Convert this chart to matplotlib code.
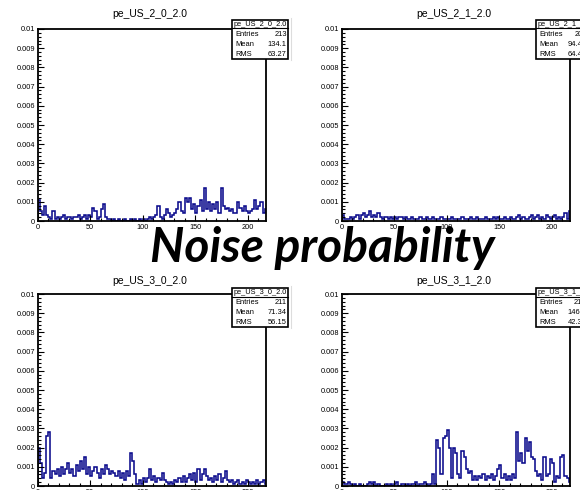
import numpy as np
import matplotlib
matplotlib.use("Agg")
import matplotlib.pyplot as plt
from matplotlib.patches import Rectangle
from matplotlib.lines import Line2D
from matplotlib.ticker import MultipleLocator

plt.rcParams['font.family'] = ['Liberation Sans', 'DejaVu Sans']

W, H = 580, 490
BIN_WIDTH = 2

# bin contents in units of 1e-4 (bins of width 2, starting at 0)
us_2_0 = [11, 5, 3, 8, 3, 2, 1, 5, 1, 2, 1, 2, 3, 1, 2, 2, 1, 2, 2, 3,
          1, 2, 3, 1, 3, 2, 7, 5, 1, 2, 6, 9, 2, 1, 1, 0, 1, 0, 1, 0,
          0, 1, 0, 0, 1, 0, 1, 0, 1, 0, 1, 0, 1, 2, 1, 2, 3, 8, 2, 1,
          3, 6, 4, 2, 3, 4, 6, 10, 5, 4, 12, 10, 12, 6, 9, 4, 8, 11, 5, 17,
          6, 10, 5, 9, 6, 10, 4, 17, 8, 6, 7, 5, 6, 4, 4, 10, 7, 5, 8, 5,
          4, 5, 6, 11, 6, 8, 10, 4, 6]
us_2_1 = [3, 1, 1, 1, 2, 1, 2, 3, 1, 3, 4, 2, 3, 5, 2, 3, 2, 4, 2, 1,
          2, 2, 1, 2, 1, 2, 1, 2, 2, 1, 2, 1, 1, 2, 1, 1, 1, 2, 1, 1,
          2, 1, 1, 2, 1, 1, 1, 2, 1, 1, 1, 1, 2, 1, 1, 1, 1, 2, 1, 1,
          1, 2, 1, 1, 2, 1, 1, 1, 2, 1, 1, 1, 2, 1, 2, 1, 1, 2, 1, 1,
          2, 1, 1, 2, 3, 1, 2, 1, 1, 2, 3, 1, 2, 3, 1, 2, 1, 3, 2, 1,
          2, 3, 1, 2, 1, 2, 4, 1, 5]
us_3_0 = [20, 12, 4, 7, 26, 28, 4, 8, 6, 9, 5, 10, 6, 9, 12, 7, 9, 5, 11, 8,
          13, 9, 15, 6, 10, 5, 8, 10, 7, 4, 9, 6, 11, 9, 6, 8, 7, 5, 8, 4,
          7, 3, 8, 5, 17, 13, 6, 1, 3, 1, 4, 2, 4, 9, 3, 5, 2, 4, 3, 7,
          3, 2, 1, 2, 1, 3, 2, 4, 2, 5, 2, 4, 6, 3, 7, 2, 9, 3, 6, 9,
          5, 3, 4, 2, 5, 3, 6, 2, 4, 8, 3, 2, 3, 1, 2, 3, 1, 2, 1, 3,
          2, 1, 2, 1, 3, 1, 2, 3, 1]
us_3_1 = [2, 1, 1, 2, 1, 0, 1, 0, 1, 0, 0, 0, 1, 2, 1, 2, 0, 1, 0, 0,
          0, 1, 0, 1, 0, 1, 2, 0, 1, 1, 0, 1, 0, 1, 1, 2, 0, 1, 1, 2,
          1, 0, 1, 6, 1, 24, 20, 6, 25, 26, 29, 20, 4, 20, 17, 6, 4, 18, 15, 9,
          7, 8, 3, 5, 3, 5, 4, 6, 3, 5, 4, 6, 3, 5, 9, 11, 4, 6, 3, 5,
          3, 6, 4, 28, 13, 17, 12, 25, 18, 23, 15, 14, 8, 5, 6, 3, 15, 5, 6, 14,
          12, 2, 5, 4, 15, 16, 5, 4, 2]

names = ["pe_US_2_0_2.0", "pe_US_2_1_2.0", "pe_US_3_0_2.0", "pe_US_3_1_2.0"]
histos = [us_2_0, us_2_1, us_3_0, us_3_1]
entries = ["213", "208", "211", "214"]
means = ["134.1", "94.45", "71.34", "146.2"]
rms = ["63.27", "64.48", "56.15", "42.37"]

y_ticks = [0, 0.001, 0.002, 0.003, 0.004, 0.005, 0.006, 0.007, 0.008, 0.009, 0.01]
y_labels = ["0", "0.001", "0.002", "0.003", "0.004", "0.005", "0.006", "0.007", "0.008", "0.009", "0.01"]
x_ticks = [0, 50, 100, 150, 200]

# pixel layout: (left, top) of each frame
frames = [(37.7, 29), (341.7, 29), (37.7, 294), (341.7, 294)]
frame_w, frame_h = 228, 192
title_y = [14, 14, 281, 281]
box_top = [20, 20, 288, 288]
box_w = [56, 52, 56, 52]

fig = plt.figure(figsize=(W / 100, H / 100), dpi=100)


def fx(x):
    return x / W


def fy(y):
    return 1 - y / H


# faint edge left of the right-hand stats boxes
for top in (18, 286):
    fig.add_artist(Line2D([fx(290.5), fx(290.5)], [fy(top), fy(top + 42)],
                          transform=fig.transFigure, color="#dddddd", lw=0.8))

for i in range(4):
    left, top = frames[i]
    ax = fig.add_axes([fx(left), fy(top + frame_h), frame_w / W, frame_h / H])
    vals = np.array(histos[i]) * 1e-4
    edges = np.arange(len(vals) + 1) * BIN_WIDTH
    ax.stairs(vals, edges, color="#0b0b8c", lw=1.15, baseline=0)
    ax.set_xlim(0, 217)
    ax.set_ylim(0, 0.01)
    ax.set_yticks(y_ticks)
    ax.set_yticklabels(y_labels)
    ax.set_xticks(x_ticks)
    ax.xaxis.set_minor_locator(MultipleLocator(10))
    ax.yaxis.set_minor_locator(MultipleLocator(0.0002))
    ax.tick_params(which="both", direction="in", labelsize=5.3, width=0.8,
                   top=False, right=False, pad=2, colors="black")
    ax.tick_params(which="major", length=4)
    ax.tick_params(which="minor", length=2)
    for s in ax.spines.values():
        s.set_linewidth(1.3)

    fig.text(fx(left + frame_w * 0.49), fy(title_y[i]), names[i], ha="center",
             va="center", fontsize=7.5)

    # stats box
    bx, by = left + 194.5, box_top[i]
    bw, bh = box_w[i], 39
    fig.add_artist(Rectangle((fx(bx), fy(by + bh)), bw / W, bh / H,
                             transform=fig.transFigure, facecolor="white",
                             edgecolor="black", lw=1.2, zorder=5))
    fig.add_artist(Line2D([fx(bx), fx(bx + bw)], [fy(by + 8.5), fy(by + 8.5)],
                          transform=fig.transFigure, color="black", lw=0.8, zorder=6))
    fig.text(fx(bx + 28), fy(by + 4.3), names[i], ha="center", va="center",
             fontsize=5.3, zorder=7)
    rows = [("Entries", entries[i]), ("Mean", means[i]), ("RMS", rms[i])]
    for k, (lab, val) in enumerate(rows):
        yy = fy(by + 14 + k * 10)
        fig.text(fx(bx + 3), yy, lab, ha="left", va="center", fontsize=5.4, zorder=7)
        fig.text(fx(bx + bw - 1.5), yy, val, ha="right", va="center", fontsize=5.4, zorder=7)

fig.text(fx(322), fy(262), "Noise probability", ha="center", va="baseline",
         fontsize=34.5, fontweight="bold", fontstyle="italic",
         family=["Lato", "DejaVu Sans"])

fig.savefig("out.png", dpi=100)
